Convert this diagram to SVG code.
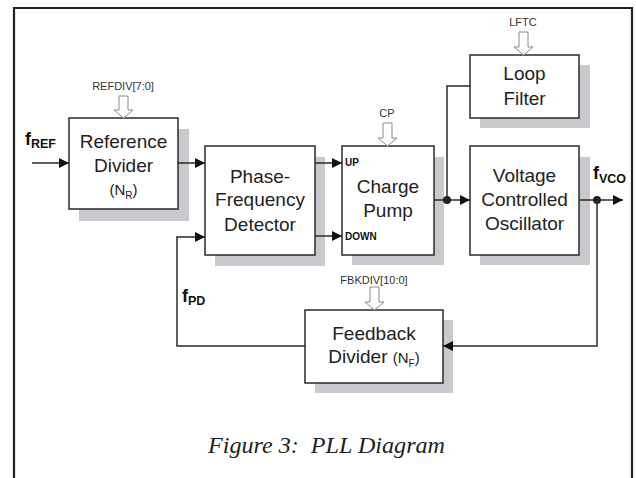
<svg xmlns="http://www.w3.org/2000/svg" width="636" height="478" viewBox="0 0 636 478">
<style>
.shadow{fill:#c8c9cd}
.box{fill:#fff;stroke:#2a2a2a;stroke-width:1.5}
.t{font-family:"Liberation Sans",Arial,sans-serif;font-size:19px;fill:#222;text-anchor:middle}
.s{font-family:"Liberation Sans",Arial,sans-serif;font-size:11px;fill:#333;text-anchor:middle}
.b{font-family:"Liberation Sans",Arial,sans-serif;font-weight:bold;fill:#111}
.w{fill:none;stroke:#2a2a2a;stroke-width:1.5}
.h{fill:#fff;stroke:#8a8a8a;stroke-width:1}
.dot{fill:#222}
</style>
<defs>
<marker id="ah" viewBox="0 0 10 10" refX="10" refY="5" markerWidth="10" markerHeight="10" markerUnits="userSpaceOnUse" orient="auto">
<path d="M0,0 L10,5 L0,10 Z" fill="#111"/>
</marker>
</defs>
<rect width="636" height="478" fill="#fff"/>
<path d="M14,478 V8 H632 V478" fill="none" stroke="#222" stroke-width="2.2"/>

<g id="refdiv">
<rect class="shadow" x="79" y="129" width="110" height="92"/>
<rect class="box" x="69" y="118" width="109" height="91"/>
<text class="t" x="123.5" y="148">Reference</text>
<text class="t" x="123.5" y="172">Divider</text>
<text class="t" x="123.5" y="195" style="font-size:15px">(N<tspan dy="4" style="font-size:10px">R</tspan><tspan dy="-4">)</tspan></text>
<text class="s" x="123" y="90">REFDIV[7:0]</text>
<path class="h" d="M119,96 V110 H114 L123.5,118 L133,110 H128 V96 Z"/>
</g>

<g id="pfd">
<rect class="shadow" x="215" y="157" width="110" height="109"/>
<rect class="box" x="205" y="146" width="110" height="109"/>
<text class="t" x="260" y="183">Phase-</text>
<text class="t" x="260" y="206">Frequency</text>
<text class="t" x="260" y="231">Detector</text>
</g>

<g id="chargepump">
<rect class="shadow" x="352" y="157" width="92" height="108"/>
<rect class="box" x="342" y="146" width="92" height="109"/>
<text class="t" x="388" y="193">Charge</text>
<text class="t" x="388" y="217">Pump</text>
<text class="b" x="345" y="166" style="font-size:10px">UP</text>
<text class="b" x="345" y="240" style="font-size:10px">DOWN</text>
<text class="s" x="387" y="117">CP</text>
<path class="h" d="M383,123 V138 H378 L387.5,146 L397,138 H392 V123 Z"/>
</g>

<g id="loopfilter">
<rect class="shadow" x="480" y="65" width="110" height="63"/>
<rect class="box" x="470" y="55" width="109" height="63"/>
<text class="t" x="524.5" y="80">Loop</text>
<text class="t" x="524.5" y="105">Filter</text>
<text class="s" x="523" y="26">LFTC</text>
<path class="h" d="M519,32 V47 H514 L523.5,55 L533,47 H528 V32 Z"/>
</g>

<g id="vco">
<rect class="shadow" x="480" y="157" width="110" height="108"/>
<rect class="box" x="470" y="146" width="109" height="109"/>
<text class="t" x="524.5" y="182">Voltage</text>
<text class="t" x="524.5" y="206">Controlled</text>
<text class="t" x="524.5" y="230">Oscillator</text>
</g>

<g id="fbdiv">
<rect class="shadow" x="315" y="320" width="138" height="73"/>
<rect class="box" x="305" y="310" width="138" height="73"/>
<text class="t" x="374" y="340">Feedback</text>
<text class="t" x="374" y="363">Divider <tspan style="font-size:15px">(N<tspan dy="4" style="font-size:10px">F</tspan><tspan dy="-4">)</tspan></tspan></text>
<text class="s" x="374" y="284">FBKDIV[10:0]</text>
<path class="h" d="M370,287 V302 H365 L374.5,310 L384,302 H379 V287 Z"/>
</g>

<g id="connectors">
<path class="w" d="M32,163 H69" marker-end="url(#ah)"/>
<path class="w" d="M178,163 H205" marker-end="url(#ah)"/>
<path class="w" d="M315,163 H342" marker-end="url(#ah)"/>
<path class="w" d="M315,236 H342" marker-end="url(#ah)"/>
<path class="w" d="M434,200 H470" marker-end="url(#ah)"/>
<path class="w" d="M447,200 V86 H470"/>
<circle class="dot" cx="447" cy="200" r="4"/>
<path class="w" d="M579,200 H623" marker-end="url(#ah)"/>
<circle class="dot" cx="597" cy="200" r="4"/>
<path class="w" d="M597,200 V346 H443" marker-end="url(#ah)"/>
<path class="w" d="M305,346 H177 V237 H205" marker-end="url(#ah)"/>
</g>

<g id="labels">
<text class="b" x="25" y="145" style="font-size:18px">f<tspan dy="3" style="font-size:12.5px">REF</tspan></text>
<text class="b" x="593" y="179" style="font-size:18px">f<tspan dy="4" style="font-size:12.5px">VCO</tspan></text>
<text class="b" x="182" y="302" style="font-size:18px">f<tspan dy="3" style="font-size:12.5px">PD</tspan></text>
<text x="208" y="453" textLength="237" lengthAdjust="spacingAndGlyphs" style="font-family:'Liberation Serif','Times New Roman',serif;font-style:italic;font-size:23px;fill:#222;white-space:pre" xml:space="preserve">Figure 3:  PLL Diagram</text>
</g>
</svg>
